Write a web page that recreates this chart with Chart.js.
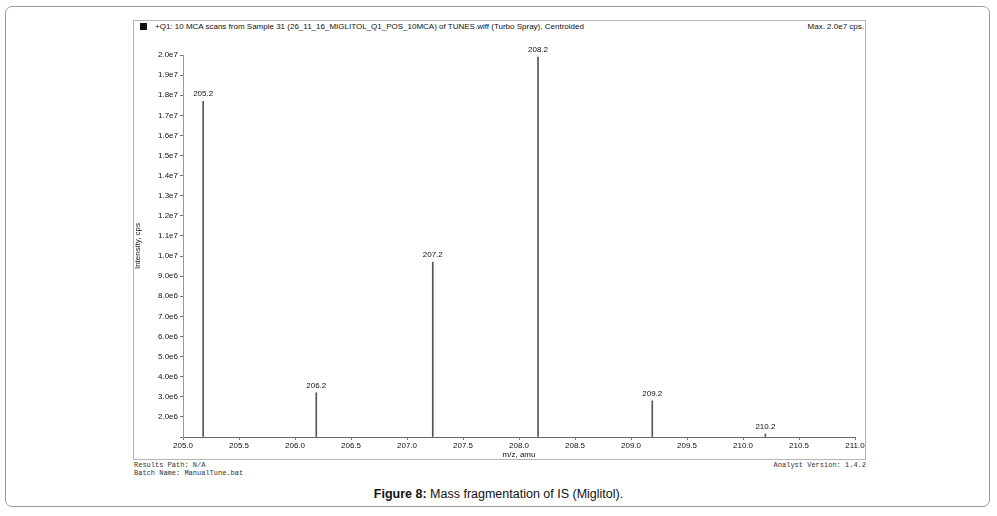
<!DOCTYPE html>
<html>
<head>
<meta charset="utf-8">
<script src="https://cdn.jsdelivr.net/npm/chart.js@4.4.0/dist/chart.umd.min.js"></script>
<style>
  html, body { margin: 0; padding: 0; background: #fff; }
  body { width: 997px; height: 516px; position: relative; overflow: hidden; font-family: "Liberation Sans", Arial, sans-serif; }
  #outer { position: absolute; left: 5px; top: 6px; width: 985px; height: 501px; border: 1px solid #9a9a9a; border-radius: 7px; box-sizing: border-box; }
  #frame { position: absolute; left: 133px; top: 20px; width: 733px; height: 440px; border: 1px solid #b5b5b5; box-sizing: border-box; }
  #wrap { position: absolute; left: 133px; top: 20px; width: 733px; height: 440px; }
  .hdr { position: absolute; top: 22px; font-size: 8px; color: #111; white-space: nowrap; }
  .mono { position: absolute; font-family: "Liberation Mono", monospace; font-size: 7px; color: #333; white-space: nowrap; }
  #caption { position: absolute; top: 487px; left: 0; width: 997px; text-align: center; font-size: 12.5px; color: #111; }
</style>
</head>
<body>
<div id="outer"></div>
<div id="frame"></div>
<div class="hdr" style="left:140px;"><span style="display:inline-block;width:7px;height:7px;background:#111;margin-right:8px;vertical-align:-1px;"></span>+Q1: 10 MCA scans from Sample 31 (26_11_16_MIGLITOL_Q1_POS_10MCA) of TUNES.wiff (Turbo Spray), Centroided</div>
<div class="hdr" style="right:133px;">Max. 2.0e7 cps.</div>
<div id="wrap"><canvas id="ms"></canvas></div>
<div class="mono" style="left:134px;top:461px;">Results Path: N/A</div>
<div class="mono" style="left:134px;top:469px;">Batch Name: ManualTune.bat</div>
<div class="mono" style="right:131px;top:461px;">Analyst Version: 1.4.2</div>
<div id="caption"><b>Figure 8:</b> Mass fragmentation of IS (Miglitol).</div>
<script>
  // peaks
  const MZ = [205.18, 206.19, 207.23, 208.17, 209.19, 210.2];
  const INTENSITY = [17700000, 3200000, 9700000, 19900000, 2800000, 1150000];
  const PEAK_LABELS = ['205.2', '206.2', '207.2', '208.2', '209.2', '210.2'];

  const X_MIN = 205.0, X_MAX = 211.0, X_STEP = 0.5;
  const Y_MIN = 1000000, Y_MAX = 20000000, Y_STEP = 1000000;

  const peakLabels = {
    id: 'peakLabels',
    afterDatasetsDraw(chart) {
      const ctx = chart.ctx;
      const xs = chart.scales.x, ys = chart.scales.y;
      ctx.save();
      ctx.font = '8px "Liberation Sans", Arial, sans-serif';
      ctx.fillStyle = '#111';
      ctx.textAlign = 'center';
      ctx.textBaseline = 'bottom';
      MZ.forEach((m, i) => {
        const px = xs.getPixelForValue(m);
        const py = ys.getPixelForValue(INTENSITY[i]);
        ctx.fillText(PEAK_LABELS[i], px, py - 3);
      });
      ctx.restore();
    }
  };

  new Chart(document.getElementById('ms').getContext('2d'), {
    type: 'bar',
    data: {
      datasets: [{
        data: MZ.map((m, i) => ({ x: m, y: INTENSITY[i] })),
        backgroundColor: '#555',
        borderWidth: 0,
        barThickness: 1,
        base: Y_MIN
      }]
    },
    options: {
      responsive: true,
      maintainAspectRatio: false,
      animation: false,
      layout: { padding: { top: 35, right: 11, left: 0, bottom: 0 } },
      plugins: { legend: { display: false }, tooltip: { enabled: false } },
      scales: {
        x: {
          type: 'linear',
          offset: false,
          min: X_MIN, max: X_MAX,
          grid: { display: true, offset: false, drawOnChartArea: false, drawTicks: true, tickLength: 3, color: '#777' },
          border: { color: '#666', width: 1, dash: [3, 1] },
          ticks: {
            stepSize: X_STEP,
            padding: 1,
            color: '#111',
            font: { size: 8, family: '"Liberation Sans", Arial, sans-serif' },
            callback: v => Number(v).toFixed(1),
            maxRotation: 0, autoSkip: false
          },
          title: { display: true, text: 'm/z, amu', color: '#111', padding: 0,
                   font: { size: 8, family: '"Liberation Sans", Arial, sans-serif' } },
          afterFit: s => { s.height = 23; }
        },
        y: {
          min: Y_MIN, max: Y_MAX,
          grid: { display: true, drawOnChartArea: false, drawTicks: true, tickLength: 3, color: '#777' },
          border: { color: '#999', width: 1 },
          ticks: {
            stepSize: Y_STEP,
            padding: 2,
            color: '#111',
            font: { size: 8, family: '"Liberation Sans", Arial, sans-serif' },
            callback: v => {
              if (v < 2000000) return '';
              const e = Math.floor(Math.log10(v));
              return (v / Math.pow(10, e)).toFixed(1) + 'e' + e;
            }
          },
          title: { display: true, text: 'Intensity, cps', color: '#111', padding: { top: 0, bottom: 8 },
                   font: { size: 8, family: '"Liberation Sans", Arial, sans-serif' } },
          afterFit: s => { s.width = 50; }
        }
      }
    },
    plugins: [peakLabels]
  });
</script>
</body>
</html>
